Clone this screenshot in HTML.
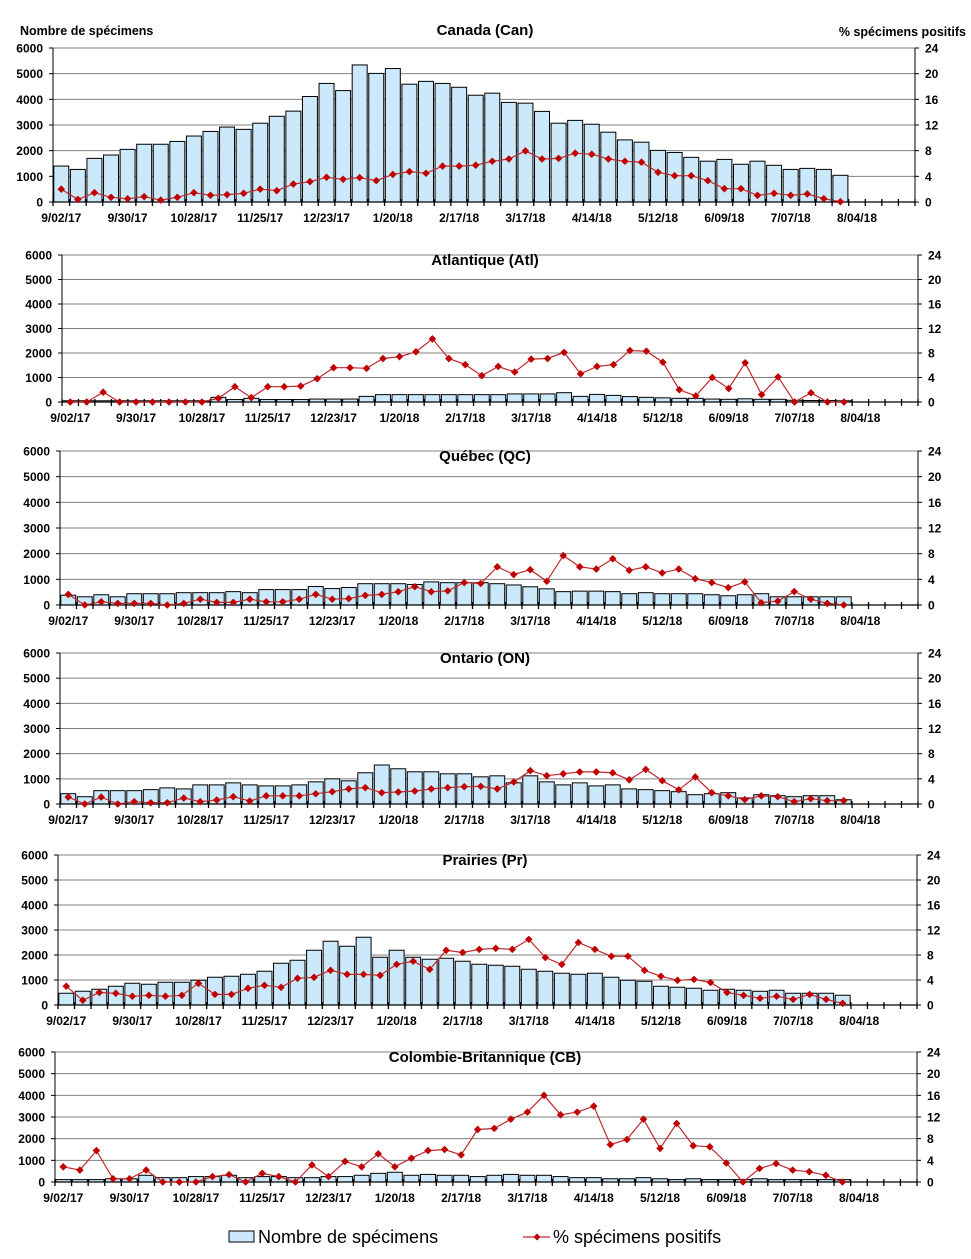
<!DOCTYPE html>
<html><head><meta charset="utf-8"><style>
body{margin:0;background:#fff;}
svg{display:block;font-family:"Liberation Sans",Arial,sans-serif;}
</style></head><body>
<svg id="chart" width="971" height="1259" viewBox="0 0 971 1259" xmlns="http://www.w3.org/2000/svg">
<text x="20" y="35" font-size="12.5" font-weight="bold">Nombre de spécimens</text>
<text x="966" y="36" font-size="12.5" font-weight="bold" text-anchor="end">% spécimens positifs</text>
<g>
<rect x="229" y="1231" width="25" height="11" fill="#cce9fb" stroke="#000" stroke-width="1"/>
<text x="258" y="1243" font-size="18">Nombre de spécimens</text>
<line x1="523" y1="1237" x2="550" y2="1237" stroke="#c0282d" stroke-width="1.3"/>
<path d="M537 1233.5 L540.5 1237 L537 1240.5 L533.5 1237 Z" fill="#c00000"/>
<text x="553" y="1243" font-size="18">% spécimens positifs</text>
</g>
</svg>
<script>
const weekLabels = ["9/02/17","9/30/17","10/28/17","11/25/17","12/23/17","1/20/18","2/17/18","3/17/18","4/14/18","5/12/18","6/09/18","7/07/18","8/04/18"];
const leftTicks = [0,1000,2000,3000,4000,5000,6000];
const rightTicks = [0,4,8,12,16,20,24];
const canCounts = [1400,1270,1700,1830,2050,2250,2250,2360,2570,2750,2920,2830,3070,3340,3540,4110,4620,4340,5340,5010,5200,4590,4700,4620,4470,4160,4240,3880,3850,3530,3070,3180,3030,2720,2420,2330,2010,1930,1740,1590,1660,1470,1590,1430,1270,1310,1270,1040];
const canPct = [2.0,0.4,1.45,0.73,0.5,0.83,0.3,0.73,1.45,1.05,1.15,1.35,2.0,1.77,2.8,3.17,3.85,3.54,3.8,3.33,4.3,4.74,4.48,5.6,5.6,5.73,6.35,6.7,7.96,6.7,6.8,7.6,7.45,6.7,6.35,6.2,4.63,4.1,4.1,3.33,2.08,2.08,1.04,1.35,1.04,1.25,0.52,0.05];
const atlCounts = [50,50,50,50,50,50,50,50,50,190,100,150,100,100,100,120,120,120,230,300,300,300,300,300,300,300,300,330,330,330,380,230,310,270,220,190,170,150,150,120,110,130,110,110,70,60,60,50];
const atlPct = [0,0,1.6,0,0,0,0,0,0,0.6,2.5,0.7,2.5,2.5,2.6,3.8,5.6,5.6,5.5,7.1,7.4,8.2,10.3,7.1,6.1,4.3,5.8,4.9,7.0,7.1,8.1,4.6,5.8,6.1,8.4,8.3,6.5,2.0,1.0,4.0,2.2,6.4,1.2,4.1,0,1.5,0,0];
const qcCounts = [380,320,400,320,440,440,440,480,480,480,520,480,600,600,600,720,640,680,830,830,830,800,900,870,870,870,830,780,710,630,520,540,540,520,440,480,440,440,440,400,360,400,440,320,320,320,320,320];
const qcPct = [1.65,0,0.5,0.25,0.25,0.25,0,0.25,0.9,0.4,0.4,0.9,0.5,0.5,0.9,1.65,0.9,1.0,1.5,1.65,2.07,2.85,2.07,2.2,3.5,3.35,5.95,4.75,5.5,3.7,7.7,5.95,5.6,7.2,5.4,5.95,5.0,5.6,4.1,3.5,2.7,3.6,0.36,0.6,2.1,0.9,0.25,0];
const onCounts = [410,290,530,530,530,570,640,600,760,760,840,760,720,720,760,880,1000,920,1240,1550,1400,1280,1280,1200,1200,1080,1120,840,1120,880,760,840,720,760,600,570,530,490,370,410,450,240,370,330,290,330,330,170];
const onPct = [1.1,0,1.1,0,0.37,0.2,0.2,0.95,0.37,0.63,1.16,0.47,1.3,1.3,1.3,1.63,1.95,2.4,2.6,1.8,1.9,2.05,2.4,2.6,2.75,2.8,2.4,3.5,5.3,4.5,4.8,5.1,5.1,4.95,3.85,5.5,3.7,2.26,4.3,1.8,1.3,0.7,1.3,1.16,0.37,0.84,0.53,0.53];
const prCounts = [470,550,630,750,870,830,910,910,990,1110,1150,1230,1350,1670,1790,2190,2550,2350,2710,1910,2190,1910,1830,1870,1750,1630,1590,1550,1430,1350,1270,1230,1270,1110,990,950,750,710,670,590,630,590,550,590,470,470,470,390];
const prPct = [3.0,0.75,2.0,1.87,1.4,1.55,1.4,1.55,3.47,1.7,1.7,2.67,3.15,2.83,4.27,4.43,5.55,4.9,4.9,4.75,6.5,7.0,5.7,8.75,8.4,8.9,9.07,8.9,10.5,7.6,6.5,10.0,8.9,7.8,7.8,5.55,4.6,3.95,4.1,3.6,2.0,1.55,1.07,1.4,0.9,1.7,0.9,0.27];
const cbCounts = [110,110,110,150,150,310,200,200,250,250,310,200,250,250,200,200,250,250,310,400,450,310,350,310,310,250,310,350,310,310,250,200,200,150,150,200,150,110,150,110,110,110,150,110,110,110,110,110];
const cbPct = [2.8,2.2,5.8,0.6,0.6,2.2,0,0,0,1.0,1.36,0,1.6,1.0,0,3.15,1.0,3.8,2.8,5.2,2.8,4.4,5.8,6.0,5.0,9.7,9.9,11.6,12.9,16.0,12.4,12.9,14.0,6.9,7.85,11.6,6.2,10.8,6.7,6.5,3.5,0,2.5,3.4,2.2,1.9,1.24,0];

const panels = [
 {name:"canada",title:"Canada (Can)",L:53,R:915,T:48,B:202,ty:35,counts:canCounts,pct:canPct},
 {name:"atlantique",title:"Atlantique (Atl)",L:62,R:918,T:255,B:402,ty:265,counts:atlCounts,pct:atlPct},
 {name:"quebec",title:"Québec (QC)",L:60,R:918,T:451,B:605,ty:461,counts:qcCounts,pct:qcPct},
 {name:"ontario",title:"Ontario (ON)",L:60,R:918,T:653,B:804,ty:663,counts:onCounts,pct:onPct},
 {name:"prairies",title:"Prairies (Pr)",L:58,R:917,T:855,B:1005,ty:865,counts:prCounts,pct:prPct},
 {name:"colombie-britannique",title:"Colombie-Britannique (CB)",L:55,R:917,T:1052,B:1182,ty:1062,counts:cbCounts,pct:cbPct}
];
const NS="http://www.w3.org/2000/svg";
const svg=document.getElementById('chart');
function mk(tag,attrs,parent){const e=document.createElementNS(NS,tag);for(const k in attrs)e.setAttribute(k,attrs[k]);(parent||svg).appendChild(e);return e;}
const SLOTS=52;
panels.forEach(p=>{
  const g=mk('g',{});
  
  
  const sw=(p.R-p.L)/SLOTS;
  const xc=i=>p.L+(i+0.5)*sw;
  const yL=v=>p.B-(v/6000)*(p.B-p.T);
  const yR=v=>p.B-(v/24)*(p.B-p.T);
  // gridlines and y ticks
  leftTicks.forEach((t,k)=>{
    const y=yL(t);
    if(t>0){const gl=mk('line',{x1:p.L,x2:p.R,y1:y,y2:y,stroke:'#808080','stroke-width':1},g);
      
      }
    mk('line',{x1:p.L-4,x2:p.L,y1:y,y2:y,stroke:'#000'},g);
    const tl=mk('text',{x:p.L-10,y:y+4.5,'font-size':12,'font-weight':'bold','text-anchor':'end'},g);
    
    
    tl.textContent=t;
  });
  rightTicks.forEach(t=>{
    const y=yR(t);
    mk('line',{x1:p.R,x2:p.R+4,y1:y,y2:y,stroke:'#000'},g);
    const tl=mk('text',{x:p.R+10,y:y+4.5,'font-size':12,'font-weight':'bold'},g);
    
    
    tl.textContent=t;
  });
  // bars
  p.counts.forEach((v,i)=>{
    const y=yL(v);
    const b=mk('rect',{x:p.L+i*sw+0.8,y:y,width:sw-1.6,height:p.B-y,fill:'#cce9fb',stroke:'#000','stroke-width':1},g);
    
    
  });
  // axes
  mk('line',{x1:p.L,x2:p.L,y1:p.T,y2:p.B,stroke:'#000'},g);
  mk('line',{x1:p.R,x2:p.R,y1:p.T,y2:p.B,stroke:'#000'},g);
  mk('line',{x1:p.L,x2:p.R,y1:p.B,y2:p.B,stroke:'#000','stroke-width':1.2},g);
  for(let i=0;i<=SLOTS;i++){const x=p.L+i*sw;mk('line',{x1:x,x2:x,y1:p.B-3,y2:p.B+4,stroke:'#000','stroke-width':1.3},g);}
  weekLabels.forEach((l,k)=>{
    const t=mk('text',{x:xc(k*4),y:p.B+20,'font-size':12,'font-weight':'bold','text-anchor':'middle'},g);
    
    
    t.textContent=l;
  });
  // line
  const pts=p.pct.map((v,i)=>xc(i).toFixed(1)+','+yR(v).toFixed(1)).join(' ');
  const ln=mk('polyline',{points:pts,fill:'none',stroke:'#c0282d','stroke-width':1.2},g);
  
  
  p.pct.forEach((v,i)=>{
    const x=xc(i),y=yR(v);
    const m=mk('path',{d:`M${x} ${y-3.8} L${x+3.8} ${y} L${x} ${y+3.8} L${x-3.8} ${y} Z`,fill:'#c00000'},g);
    
    
  });
  const tt=mk('text',{x:485,y:p.ty,'font-size':15,'font-weight':'bold','text-anchor':'middle'},g);
  
  
  tt.textContent=p.title;
});
</script>
</body></html>
